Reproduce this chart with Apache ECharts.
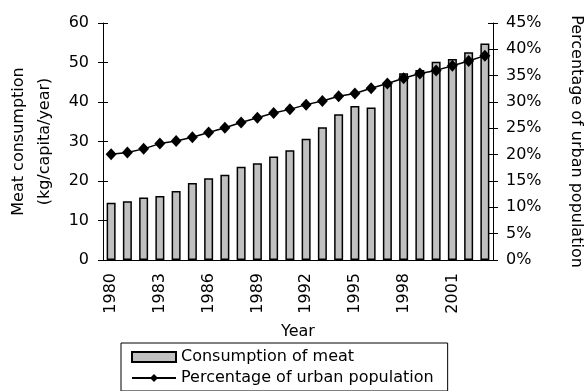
<!DOCTYPE html>
<html>
<head>
<meta charset="utf-8">
<script src="https://cdn.jsdelivr.net/npm/echarts@6/dist/echarts.min.js"></script>
<style>
  html, body { margin: 0; padding: 0; background: #fff; }
  #chart { width: 585px; height: 391px; }
</style>
</head>
<body>
<div id="chart"></div>
<script>
// 年份
const years = ['1980', '1981', '1982', '1983', '1984', '1985', '1986', '1987', '1988', '1989', '1990', '1991',
  '1992', '1993', '1994', '1995', '1996', '1997', '1998', '1999', '2000', '2001', '2002', '2003']
// 肉类消费 (kg/capita/year)
const meat = [14.5, 14.9, 15.8, 16.2, 17.5, 19.5, 20.7, 21.6, 23.6, 24.5, 26.2, 27.8,
  30.7, 33.6, 36.9, 39.0, 38.6, 44.3, 47.3, 48.1, 50.2, 50.9, 52.6, 54.8]
// 城市人口比例 (%)
const urban = [20.1, 20.4, 21.1, 22.1, 22.6, 23.3, 24.2, 25.1, 26.1, 27.0, 27.9, 28.6,
  29.5, 30.2, 31.1, 31.6, 32.6, 33.5, 34.5, 35.4, 36.0, 36.9, 37.8, 38.8]

const font = 'DejaVu Sans'
const myChart = echarts.init(document.querySelector('#chart'))

// 刻度线穿过轴线：再叠一根只画内侧刻度的轴
function innerTicks(position, max, interval) {
  return {
    type: 'value',
    min: 0,
    max: max,
    interval: interval,
    position: position,
    axisLine: { show: false },
    axisTick: { show: true, inside: true, length: 5, lineStyle: { color: '#000' } },
    axisLabel: { show: false },
    splitLine: { show: false }
  }
}

const option = {
  animation: false,
  textStyle: { fontFamily: font, color: '#000' },
  grid: { left: 103, right: 92, top: 23, bottom: 131, outerBoundsMode: 'none' },
  legend: {
    orient: 'vertical',
    left: 121,
    top: 343,
    padding: [6, 14, 5, 10],
    itemGap: 5,
    itemWidth: 44,
    itemHeight: 10,
    borderColor: '#000',
    borderWidth: 1,
    textStyle: { fontFamily: font, fontSize: 16, color: '#000' },
    data: [
      { name: 'Consumption of meat', icon: 'rect' },
      { name: 'Percentage of urban population' }
    ]
  },
  xAxis: {
    type: 'category',
    data: years,
    name: 'Year',
    nameLocation: 'middle',
    nameGap: 64,
    nameTextStyle: { fontSize: 16, color: '#000' },
    axisLine: { lineStyle: { color: '#000', width: 1 } },
    axisTick: { alignWithLabel: false, length: 4, lineStyle: { color: '#000' } },
    axisLabel: {
      rotate: 90,
      interval: 2,
      fontSize: 16,
      color: '#000',
      margin: 13
    }
  },
  yAxis: [
    {
      type: 'value',
      min: 0,
      max: 60,
      interval: 10,
      position: 'left',
      name: 'Meat consumption\n(kg/capita/year)',
      nameLocation: 'middle',
      nameGap: 42,
      nameTextStyle: { fontSize: 16, color: '#000', lineHeight: 26 },
      axisLine: { show: true, lineStyle: { color: '#000' } },
      axisTick: { show: true, length: 5, lineStyle: { color: '#000' } },
      axisLabel: { fontSize: 16, color: '#000', margin: 14 },
      splitLine: { show: false }
    },
    {
      type: 'value',
      min: 0,
      max: 45,
      interval: 5,
      position: 'right',
      name: 'Percentage of urban population',
      nameLocation: 'middle',
      nameRotate: -90,
      nameGap: 75,
      nameTextStyle: { fontSize: 16, color: '#000' },
      axisLine: { show: true, lineStyle: { color: '#000' } },
      axisTick: { show: true, length: 5, lineStyle: { color: '#000' } },
      axisLabel: { fontSize: 16, color: '#000', margin: 13, formatter: '{value}%' },
      splitLine: { show: false }
    },
    innerTicks('left', 60, 10),
    innerTicks('right', 45, 5)
  ],
  series: [
    {
      name: 'Consumption of meat',
      type: 'bar',
      data: meat,
      barWidth: 9,
      itemStyle: { color: '#c0c0c0', borderColor: '#000', borderWidth: 1.5 }
    },
    {
      name: 'Percentage of urban population',
      type: 'line',
      yAxisIndex: 1,
      data: urban,
      showAllSymbol: true,
      symbol: 'diamond',
      symbolSize: [11, 12],
      itemStyle: { color: '#000' },
      lineStyle: { color: '#000', width: 1.5 }
    }
  ]
}

myChart.setOption(option)
</script>
</body>
</html>
